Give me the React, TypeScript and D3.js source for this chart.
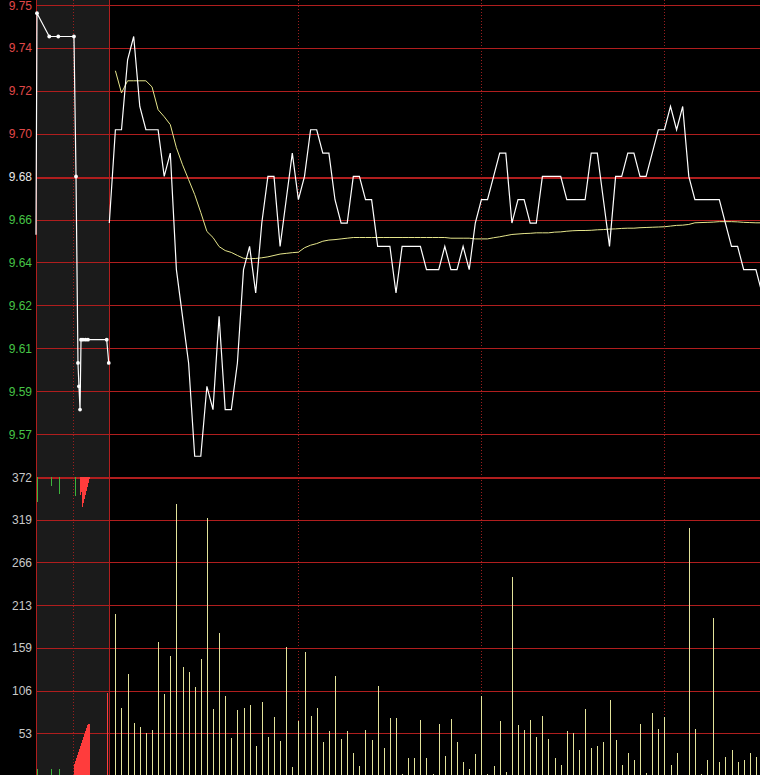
import * as d3 from "d3";

// axis labels, top to bottom
const priceLabels = ["9.75", "9.74", "9.72", "9.70", "9.68", "9.66", "9.64", "9.62", "9.61", "9.59", "9.57"];
const volumeLabels = ["372", "319", "266", "213", "159", "106", "53"];

const prevClose = 9.68;
const priceTop = 9.7535;
const priceStep = 0.0184;
const volumeMax = 372;

// intraday, one point every 2 minutes from 9:30
const prices = [
  9.66, 9.70, 9.70, 9.73, 9.74, 9.71, 9.70, 9.70, 9.70, 9.68,
  9.69, 9.64, 9.62, 9.60, 9.56, 9.56, 9.59, 9.58, 9.62, 9.58,
  9.58, 9.60, 9.64, 9.65, 9.63, 9.66, 9.68, 9.68, 9.65, 9.67,
  9.69, 9.67, 9.68, 9.70, 9.70, 9.69, 9.69, 9.67, 9.66, 9.66,
  9.68, 9.68, 9.67, 9.67, 9.65, 9.65, 9.65, 9.63, 9.65, 9.65,
  9.65, 9.65, 9.64, 9.64, 9.64, 9.65, 9.64, 9.64, 9.65, 9.64,
  9.66, 9.67, 9.67, 9.68, 9.69, 9.69, 9.66, 9.67, 9.67, 9.66,
  9.66, 9.68, 9.68, 9.68, 9.68, 9.67, 9.67, 9.67, 9.67, 9.69,
  9.69, 9.67, 9.65, 9.68, 9.68, 9.69, 9.69, 9.68, 9.68, 9.69,
  9.70, 9.70, 9.71, 9.70, 9.71, 9.68, 9.67, 9.67, 9.67, 9.67,
  9.67, 9.66, 9.65, 9.65, 9.64, 9.64, 9.64, 9.63,
];

const avgPrices: (number | null)[] = [
  null, 9.7253, 9.7158, 9.721, 9.721, 9.721, 9.721, 9.7184, 9.7086, 9.7056,
  9.7022, 9.6923, 9.685, 9.6786, 9.6722, 9.6645, 9.6564, 9.6538, 9.6499, 9.6482,
  9.6474, 9.6461, 9.6449, 9.6447, 9.6448, 9.6451, 9.6455, 9.6461, 9.6467, 9.647,
  9.6473, 9.6475, 9.6494, 9.6505, 9.6512, 9.6522, 9.6527, 9.6529, 9.6532, 9.6535,
  9.6538, 9.6538, 9.6538, 9.6538, 9.6538, 9.6538, 9.6538, 9.6538, 9.6538, 9.6538,
  9.6538, 9.6538, 9.6538, 9.6538, 9.6538, 9.6538, 9.6535, 9.6535, 9.6535, 9.6535,
  9.6532, 9.6532, 9.6532, 9.6537, 9.6541, 9.6546, 9.6551, 9.6553, 9.6555, 9.6556,
  9.6558, 9.6558, 9.6558, 9.6561, 9.6562, 9.6565, 9.6567, 9.6568, 9.6568, 9.6569,
  9.6571, 9.6572, 9.6574, 9.6575, 9.6577, 9.6578, 9.6578, 9.658, 9.6581, 9.6582,
  9.6583, 9.6584, 9.6587, 9.659, 9.6591, 9.6594, 9.6601, 9.6602, 9.6603, 9.6604,
  9.6606, 9.6606, 9.6606, 9.6605, 9.6603, 9.6602, 9.6601, 9.6601,
];

const volumes = [
  0, 202, 85, 127, 66, 61, 54, 57, 167, 102,
  149, 338, 135, 129, 111, 146, 321, 83, 178, 100,
  47, 82, 85, 88, 37, 92, 48, 73, 44, 160,
  11, 69, 154, 75, 85, 42, 56, 124, 46, 56,
  28, 12, 57, 45, 112, 35, 72, 72, 2, 22,
  22, 70, 23, 3, 65, 25, 71, 42, 17, 9,
  27, 100, 3, 12, 68, 5, 247, 63, 57, 70,
  49, 75, 46, 22, 14, 56, 53, 32, 83, 35,
  37, 42, 95, 45, 14, 28, 20, 65, 4, 78,
  59, 74, 14, 28, 1, 308, 59, 3, 20, 197,
  17, 24, 32, 17, 20, 28, 24,
];

// call auction 9:15-9:25, seconds after 9:15
const preSecs = [0, 8, 109, 183, 312, 329, 345, 353, 362, 370, 386, 407, 427, 581, 598];
const prePrices = [9.655, 9.75, 9.74, 9.74, 9.74, 9.68, 9.60, 9.59, 9.58, 9.61, 9.61, 9.61, 9.61, 9.61, 9.60];

// unmatched volume, hanging from the top (negative = sell side)
const preGapSecs = [11, 121, 187, 320, 362, 370, 378, 386, 395, 403, 411, 419, 427, 436];
const preGapVols = [-31, -11, -21, -24, 22, 19, 37, 32, 27, 22, 17, 12, 7, 2];

// matched volume, from the bottom
const preMatchSecs = [11, 121, 187, 312, 321, 329, 337, 345, 353, 362, 370, 378, 386, 395, 403, 411, 419, 427, 436, 586];
const preMatchVols = [-9, -9, -9, 15, 19, 22, 26, 30, 34, 37, 41, 45, 49, 52, 56, 60, 63, 65, 65, 103];

const W = 760;
const H = 775;
const AXIS_X = 36;
const OPEN_X = 109.3;
const STEP = 6.1;
const TOP_Y = 5;
const SPLIT_Y = 477;
const BOTTOM_Y = 776;

const GRID = "#b01e1e";
const crisp = (v: number) => Math.round(v) + 0.5;

export default function App() {
  const x = d3.scaleLinear().domain([0, 1]).range([OPEN_X, OPEN_X + STEP]);
  const preX = d3.scaleLinear().domain([0, 600]).range([AXIS_X, 109]);
  const yPrice = d3
    .scaleLinear()
    .domain([priceTop - priceStep * 11, priceTop])
    .range([SPLIT_Y, TOP_Y]);
  const yVol = d3.scaleLinear().domain([0, volumeMax]).range([BOTTOM_Y, SPLIT_Y]);

  const priceGrid = priceLabels.map((_, i) => yPrice(priceTop - i * priceStep));
  const volGrid = volumeLabels.map((_, k) => yVol(volumeMax - (k * volumeMax) / 7));

  const priceLine = d3
    .line<number>()
    .x((_d, i) => x(i))
    .y((d) => yPrice(d))(prices) ?? "";

  const avgLine = d3
    .line<number | null>()
    .defined((d) => d != null)
    .x((_d, i) => x(i))
    .y((d) => yPrice(d as number))(avgPrices) ?? "";

  const preLine = d3
    .line<number>()
    .x((_d, i) => preX(preSecs[i]))
    .y((d) => yPrice(d))(prePrices) ?? "";

  const labelColor = (s: string) => {
    const v = parseFloat(s);
    if (Math.abs(v - prevClose) < 1e-6) return "#e8e8e8";
    return v > prevClose ? "#e04848" : "#46c446";
  };

  const dividers = [31, 61, 91].map((i) => x(i));

  return (
    <div style={{ position: "absolute", left: 0, top: 0 }}>
      <svg width={W} height={H} style={{ display: "block", background: "#000" }}>
        <rect x={0} y={0} width={W} height={H} fill="#000" />
        <rect x={AXIS_X} y={0} width={109 - AXIS_X} height={H} fill="#1b1b1b" />

        {/* horizontal grid */}
        {priceGrid.map((y, i) => (
          <line
            key={"pg" + i}
            x1={AXIS_X}
            x2={W}
            y1={crisp(y)}
            y2={crisp(y)}
            stroke={GRID}
            strokeWidth={priceLabels[i] === "9.68" ? 2 : 1}
            shapeRendering="crispEdges"
          />
        ))}
        {volGrid.map((y, k) => (
          <line
            key={"vg" + k}
            x1={AXIS_X}
            x2={W}
            y1={crisp(y)}
            y2={crisp(y)}
            stroke={GRID}
            strokeWidth={k === 0 ? 2 : 1}
            shapeRendering="crispEdges"
          />
        ))}

        {/* vertical lines */}
        {[AXIS_X, 109].map((vx) => (
          <line
            key={"v" + vx}
            x1={crisp(vx)}
            x2={crisp(vx)}
            y1={0}
            y2={H}
            stroke={GRID}
            shapeRendering="crispEdges"
          />
        ))}
        {[preX(300), ...dividers].map((vx, i) => (
          <line
            key={"d" + i}
            x1={crisp(vx)}
            x2={crisp(vx)}
            y1={0}
            y2={H}
            stroke="#9a1e1e"
            strokeDasharray="1 2"
            shapeRendering="crispEdges"
          />
        ))}

        {/* axis labels */}
        <g fontFamily="'Liberation Sans', Arial, sans-serif" fontSize={12} textAnchor="end">
          {priceLabels.map((s, i) => (
            <text key={"pl" + i} x={32} y={priceGrid[i] + 4.5} fill={labelColor(s)}>
              {s}
            </text>
          ))}
          {volumeLabels.map((s, k) => (
            <text key={"vl" + k} x={32} y={volGrid[k] + 4.5} fill="#c8c8c8">
              {s}
            </text>
          ))}
        </g>

        {/* call auction volume */}
        {preGapVols.map((v, i) => (
          <line
            key={"gap" + i}
            x1={crisp(preX(preGapSecs[i]))}
            x2={crisp(preX(preGapSecs[i]))}
            y1={SPLIT_Y}
            y2={SPLIT_Y + (yVol(0) - yVol(Math.abs(v)))}
            stroke={v < 0 ? "#3cb43c" : "#ff3c3c"}
            shapeRendering="crispEdges"
          />
        ))}
        {preMatchVols.map((v, i) => (
          <line
            key={"pm" + i}
            x1={crisp(preX(preMatchSecs[i]))}
            x2={crisp(preX(preMatchSecs[i]))}
            y1={yVol(0)}
            y2={yVol(Math.abs(v))}
            stroke={v < 0 ? "#3cb43c" : "#ff3c3c"}
            shapeRendering="crispEdges"
          />
        ))}

        {/* intraday volume */}
        {volumes.map((v, i) =>
          v > 0 ? (
            <line
              key={"vol" + i}
              x1={crisp(x(i))}
              x2={crisp(x(i))}
              y1={yVol(0)}
              y2={yVol(v)}
              stroke="#e2e29a"
              shapeRendering="crispEdges"
            />
          ) : null
        )}

        {/* call auction price */}
        <path d={preLine} fill="none" stroke="#fff" strokeWidth={1.2} />
        {prePrices.slice(1).map((p, i) => (
          <circle key={"pd" + i} cx={preX(preSecs[i + 1])} cy={yPrice(p)} r={1.9} fill="#fff" />
        ))}

        {/* intraday price and average */}
        <path d={avgLine} fill="none" stroke="#e6e68c" strokeWidth={1} />
        <path d={priceLine} fill="none" stroke="#fff" strokeWidth={1.2} />
      </svg>
    </div>
  );
}
